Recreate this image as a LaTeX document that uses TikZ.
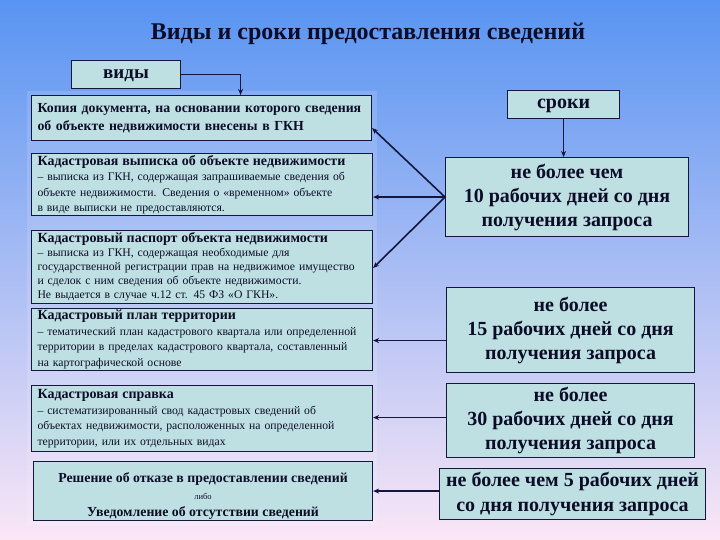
\documentclass[tikz,border=0pt]{standalone}
\usepackage{fontspec}
\setmainfont{Liberation Serif}
\usetikzlibrary{arrows.meta,calc}
\definecolor{bgtop}{RGB}{88,148,242}
\definecolor{bgmid}{RGB}{160,195,240}
\definecolor{bgbot}{RGB}{250,230,246}
\definecolor{boxfill}{RGB}{190,224,226}
\definecolor{edge}{RGB}{20,22,60}
\definecolor{ink}{RGB}{12,12,40}
\tikzset{
  kbox/.style={draw=edge,line width=1.1pt,fill=boxfill,text=ink,anchor=north west,inner xsep=6pt,inner ysep=0pt},
  lbox/.style={kbox,align=left,minimum width=341pt,text width=329pt},
  rbox/.style={kbox,align=center,font=\bfseries\fontsize{20}{24}\selectfont},
  arr/.style={draw=edge,line width=1.6pt,-{Stealth[length=6pt,width=5pt]}},
}
\newcommand{\hd}[1]{{\bfseries\fontsize{14}{15}\selectfont #1}}
\begin{document}
\begin{tikzpicture}[x=1pt,y=-1pt]
\shade[top color=bgtop,middle color=bgmid,bottom color=bgbot,shading angle=0] (0,0) rectangle (720,540);
\useasboundingbox (0,0) rectangle (720,540);
\fill[white,opacity=0.13] (27,91) rectangle (377,525);
\node[text=ink,font=\bfseries\fontsize{24}{28}\selectfont] (title) at (368,34) {Виды и сроки предоставления сведений};
% left column
\node[kbox,minimum width=109pt,minimum height=28pt,align=center,font=\bfseries\fontsize{19}{20}\selectfont,text depth=1pt] (vidy) at (71,60) {виды};
\node[lbox,minimum width=340pt,minimum height=45pt,text width=328pt,font=\bfseries\fontsize{13.8}{18}\selectfont] (kopia) at (31,95) {Копия документа, на основании которого сведения\\об объекте недвижимости внесены в ГКН};
\node[lbox,minimum height=62pt,font=\fontsize{11.7}{15.5}\selectfont] (vyp) at (31,153) {\hd{Кадастровая выписка об объекте недвижимости}\\
– выписка из ГКН, содержащая запрашиваемые сведения об\\объекте недвижимости. Сведения о «временном» объекте\\в виде выписки не предоставляются.};
\node[lbox,minimum height=73pt,font=\fontsize{11.7}{14}\selectfont] (pasp) at (31,230) {\hd{Кадастровый паспорт объекта недвижимости}\\
– выписка из ГКН, содержащая необходимые для\\государственной регистрации прав на недвижимое имущество\\и сделок с ним сведения об объекте недвижимости.\\Не выдается в случае ч.12 ст. 45 ФЗ «О ГКН».};
\node[lbox,minimum height=62pt,font=\fontsize{11.7}{15.5}\selectfont] (plan) at (31,308) {\hd{Кадастровый план территории}\\
– тематический план кадастрового квартала или определенной\\территории в пределах кадастрового квартала, составленный\\на картографической основе};
\node[lbox,minimum height=66pt,font=\fontsize{11.7}{15.5}\selectfont] (spr) at (31,385) {\hd{Кадастровая справка}\\
– систематизированный свод кадастровых сведений об\\объектах недвижимости, расположенных на определенной\\территории, или их отдельных видах};
\node[kbox,minimum width=339pt,minimum height=59pt] (resh) at (33,461) {};
\node[text=ink,align=center,font=\fontsize{13.8}{17}\selectfont,inner sep=0pt] (reshtxt) at ([yshift=-5pt]resh.center) {{\bfseries Решение об отказе в предоставлении сведений}\\
{\fontsize{8.5}{10}\selectfont либо}\\
{\bfseries Уведомление об отсутствии сведений}};
% right column
\node[kbox,minimum width=112pt,minimum height=28pt,align=center,font=\bfseries\fontsize{20}{22}\selectfont,text depth=1pt] (sroki) at (507,90) {сроки};
\node[rbox,minimum width=243pt,minimum height=79pt] (t10) at (445,157) {не более чем\\10 рабочих дней со дня\\получения запроса};
\node[rbox,minimum width=248pt,minimum height=85pt] (t15) at (446,287) {не более\\15 рабочих дней со дня\\получения запроса};
\node[rbox,minimum width=248pt,minimum height=74pt] (t30) at (446,383) {не более\\30 рабочих дней со дня\\получения запроса};
\node[rbox,minimum width=266pt,minimum height=51pt,font=\bfseries\fontsize{20}{25}\selectfont] (t5) at (439,468) {не более чем 5 рабочих дней\\со дня получения запроса};
% connectors
\draw[arr] (vidy.east) -| ([xshift=39pt]kopia.north);
\draw[arr] (sroki.south) -- (sroki.south |- t10.north);
\draw[arr] (t10.west) -- ([yshift=-10pt]kopia.east);
\draw[arr] (t10.west) -- (vyp.east |- t10.west);
\draw[arr] (t10.west) -- ([yshift=-1pt]pasp.east);
\draw[arr] ([yshift=-1pt]plan.east -| t15.west) -- ([yshift=-1pt]plan.east);
\draw[arr,line width=1.1pt] ([yshift=1pt]spr.east -| t30.west) -- ([yshift=1pt]spr.east);
\draw[arr] (resh.east -| t5.west) -- (resh.east);
\end{tikzpicture}
\end{document}
